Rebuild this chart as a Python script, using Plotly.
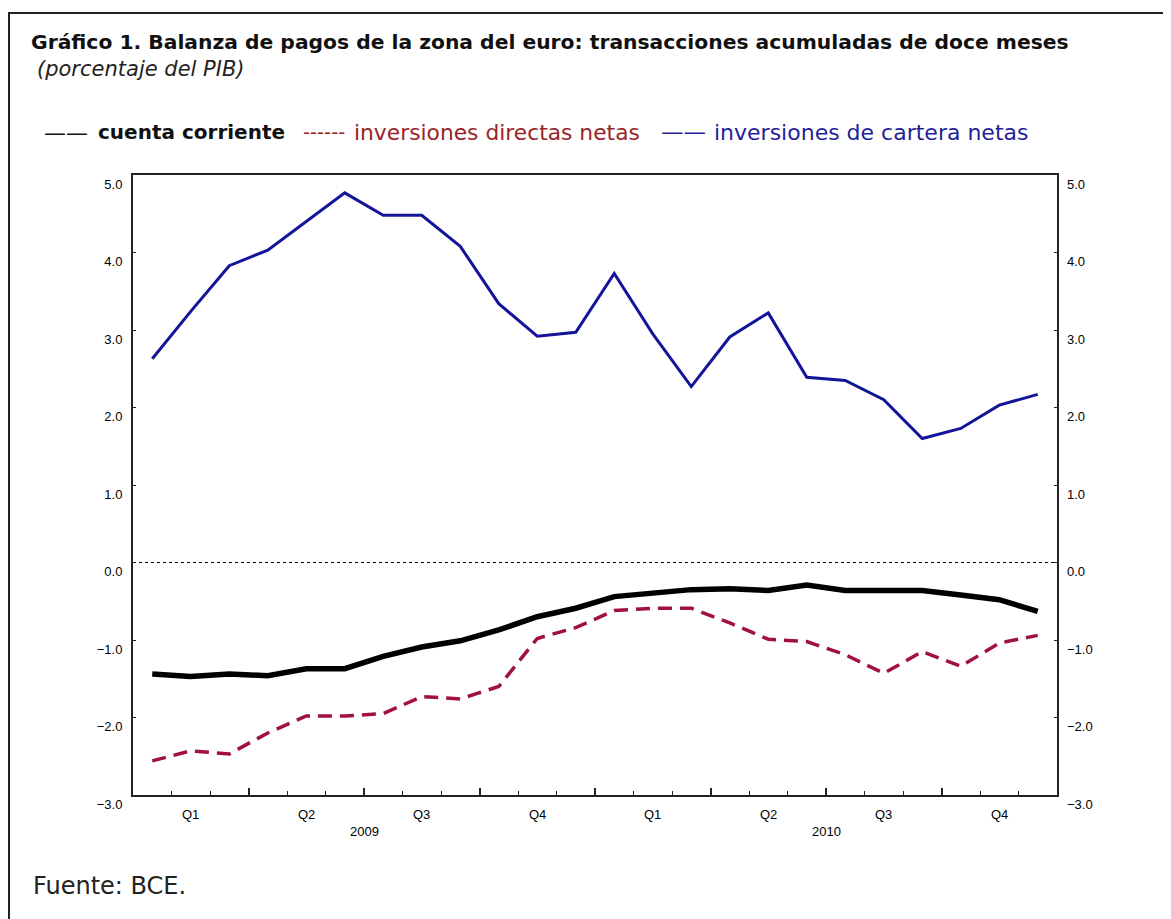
import plotly.graph_objects as go

# ---- data (monthly, Jan 2009 .. Dec 2010) ----
months = list(range(24))
cuenta_corriente = [-1.44, -1.47, -1.44, -1.46, -1.37, -1.37, -1.21, -1.09, -1.01, -0.87, -0.70, -0.59,
                    -0.44, -0.40, -0.35, -0.34, -0.36, -0.29, -0.36, -0.36, -0.36, -0.42, -0.48, -0.63]
inversiones_directas = [-2.56, -2.43, -2.47, -2.20, -1.98, -1.98, -1.95, -1.73, -1.76, -1.60, -0.98, -0.84,
                        -0.62, -0.59, -0.59, -0.78, -0.99, -1.02, -1.19, -1.43, -1.15, -1.34, -1.04, -0.94]
inversiones_cartera = [2.63, 3.24, 3.83, 4.03, 4.40, 4.77, 4.48, 4.48, 4.08, 3.34, 2.92, 2.97,
                       3.73, 2.95, 2.27, 2.91, 3.22, 2.39, 2.35, 2.10, 1.60, 1.73, 2.03, 2.17]
quarter_labels = ["Q1", "Q2", "Q3", "Q4", "Q1", "Q2", "Q3", "Q4"]
quarter_pos = [1, 4, 7, 10, 13, 16, 19, 22]
year_labels = ["2009", "2010"]
year_pos = [5.5, 17.5]
y_ticks = [5, 4, 3, 2, 1, 0, -1, -2, -3]

OFF = 8  # page body margin
W, H = 1171 - OFF, 919 - OFF
L, R, T, B = 133 - OFF, 1057 - OFF, 175 - OFF, 795 - OFF


def px(xp):  # reference page x -> paper
    return (xp - OFF - L) / (R - L)


def py(yp):  # reference page y -> paper
    return (B - (yp - OFF)) / (B - T)


fig = go.Figure()
fig.add_trace(go.Scatter(x=[-0.5, 23.5], y=[0, 0], yaxis="y2", mode="lines",
                         line=dict(color="black", width=1.2, dash="dot"), hoverinfo="skip", showlegend=False))
fig.add_trace(go.Scatter(x=months, y=inversiones_cartera, mode="lines",
                         line=dict(color="#14149A", width=3), showlegend=False))
fig.add_trace(go.Scatter(x=months, y=inversiones_directas, mode="lines",
                         line=dict(color="#A01040", width=3.5, dash="14px,8px"), showlegend=False))
fig.add_trace(go.Scatter(x=months, y=cuenta_corriente, mode="lines",
                         line=dict(color="black", width=5.5), showlegend=False))

tick_font = dict(family="Liberation Sans, Arial", size=13, color="#000")

fig.update_layout(
    width=W, height=H,
    margin=dict(l=L, r=W - R, t=T, b=H - B),
    paper_bgcolor="white", plot_bgcolor="white",
    xaxis=dict(range=[-0.5, 23.5], showgrid=False, zeroline=False,
               showline=True, linecolor="#222", linewidth=2, mirror=True,
               tickvals=[2.5, 5.5, 8.5, 11.5, 14.5, 17.5, 20.5], ticktext=[""] * 7,
               ticks="inside", ticklen=7, tickwidth=1.5, tickcolor="#222",
               minor=dict(tick0=-0.5, dtick=1, ticks="inside", ticklen=4, tickwidth=1.2, tickcolor="#222")),
    yaxis=dict(range=[-3, 5], showgrid=False, zeroline=False,
               showline=True, linecolor="#222", linewidth=2, mirror=True,
               tickvals=y_ticks, tickformat=".1f", ticks="inside", ticklen=3,
               tickcolor="#222", tickfont=tick_font, ticklabelstandoff=6, ticklabelshift=9),
    yaxis2=dict(range=[-3, 5], overlaying="y", side="right", showgrid=False, zeroline=False,
                tickvals=y_ticks, tickformat=".1f", ticks="inside", ticklen=3,
                tickcolor="#222", tickfont=tick_font, ticklabelstandoff=9, ticklabelshift=9),
)

ann = []
for lab, pos in zip(quarter_labels, quarter_pos):
    ann.append(dict(x=pos, y=py(814), xref="x", yref="paper", text=lab, showarrow=False,
                    font=tick_font, xanchor="center", yanchor="middle"))
for lab, pos in zip(year_labels, year_pos):
    ann.append(dict(x=pos, y=py(832), xref="x", yref="paper", text=lab, showarrow=False,
                    font=tick_font, xanchor="center", yanchor="middle"))


def text_at(x, y, text, size, color, family="DejaVu Sans"):
    ann.append(dict(x=px(x), y=py(y), xref="paper", yref="paper", showarrow=False,
                    xanchor="left", yanchor="middle", text=text,
                    font=dict(family=family, size=size, color=color)))


text_at(29, 42, "<b>Gráfico 1. Balanza de pagos de la zona del euro: transacciones acumuladas de doce meses</b>", 20.3, "#111")
text_at(35, 69, "<i>(porcentaje del PIB)</i>", 21, "#222")
text_at(42, 132, "——", 22, "#111")
text_at(96, 132, "<b>cuenta corriente</b>", 20, "#111")
text_at(301, 132, "------", 19.5, "#9B2426")
text_at(352, 132, "inversiones directas netas", 21.8, "#9B2426")
text_at(659, 132, "——", 22.5, "#1F1F9A")
text_at(712, 132, "inversiones de cartera netas", 22, "#1F1F9A")
text_at(31, 886, "Fuente: BCE.", 24, "#222")
fig.update_layout(annotations=ann)

fig.add_shape(type="rect", xref="paper", yref="paper", x0=px(OFF + 1), x1=px(1190), y0=py(940), y1=py(13),
              line=dict(color="#222", width=2), fillcolor="rgba(0,0,0,0)", layer="below")

fig.write_html("out.html")
